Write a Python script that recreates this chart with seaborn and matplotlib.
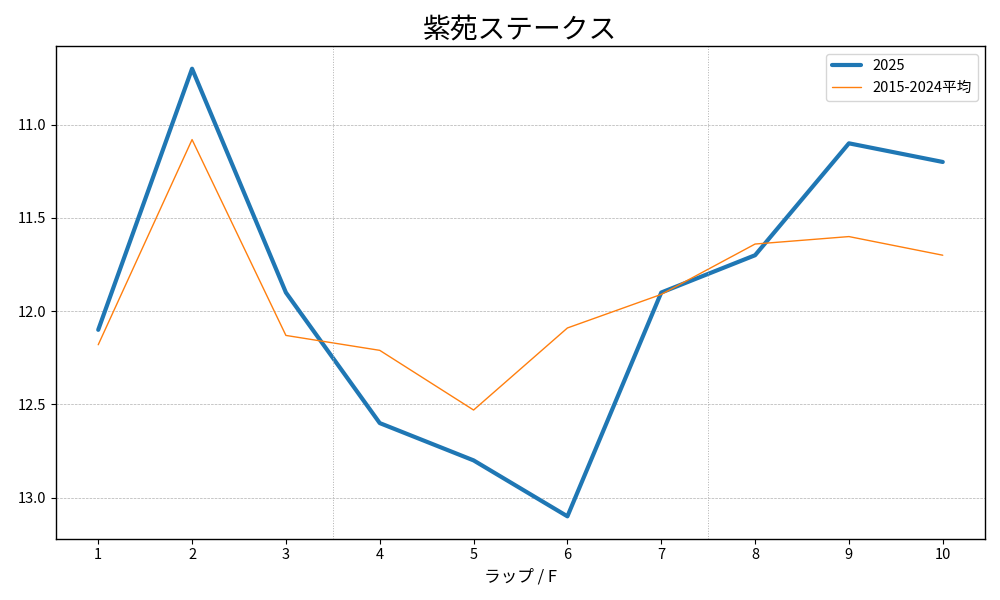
import matplotlib
matplotlib.use("Agg")
import matplotlib.pyplot as plt
import seaborn as sns
import pandas as pd

laps = [1, 2, 3, 4, 5, 6, 7, 8, 9, 10]
lap_2025 = [12.1, 10.7, 11.9, 12.6, 12.8, 13.1, 11.9, 11.7, 11.1, 11.2]
lap_avg = [12.18, 11.08, 12.13, 12.21, 12.53, 12.09, 11.91, 11.64, 11.60, 11.70]
section_marks = [3.5, 7.5]

sns.set_style("ticks", {"axes.edgecolor": "black", "xtick.color": "black", "ytick.color": "black",
                        "text.color": "black", "axes.labelcolor": "black"})
plt.rcParams["font.family"] = ["Noto Sans CJK JP", "DejaVu Sans"]

df = pd.DataFrame({"lap": laps, "2025": lap_2025, "2015-2024平均": lap_avg})

fig, ax = plt.subplots(figsize=(10, 6), dpi=100)
sns.lineplot(x="lap", y="2025", data=df, ax=ax, color="#1f77b4", linewidth=3, label="2025")
sns.lineplot(x="lap", y="2015-2024平均", data=df, ax=ax, color="#ff7f0e", linewidth=1, label="2015-2024平均")

for x in section_marks:
    ax.axvline(x, color="#b0b0b0", linestyle=":", linewidth=0.7)

ax.grid(axis="y", color="#b0b0b0", linestyle="--", linewidth=0.5)
ax.invert_yaxis()
ax.set_xticks(laps)
ax.tick_params(labelsize=10.5)
for s in ax.spines.values():
    s.set_linewidth(1.0)
ax.set_title("紫苑ステークス", fontsize=20)
ax.set_xlabel("ラップ / F", fontsize=12)
ax.set_ylabel("")
ax.legend(loc="upper right", fontsize=10.5)
plt.tight_layout()
plt.subplots_adjust(left=0.056)
plt.savefig("out.png")
